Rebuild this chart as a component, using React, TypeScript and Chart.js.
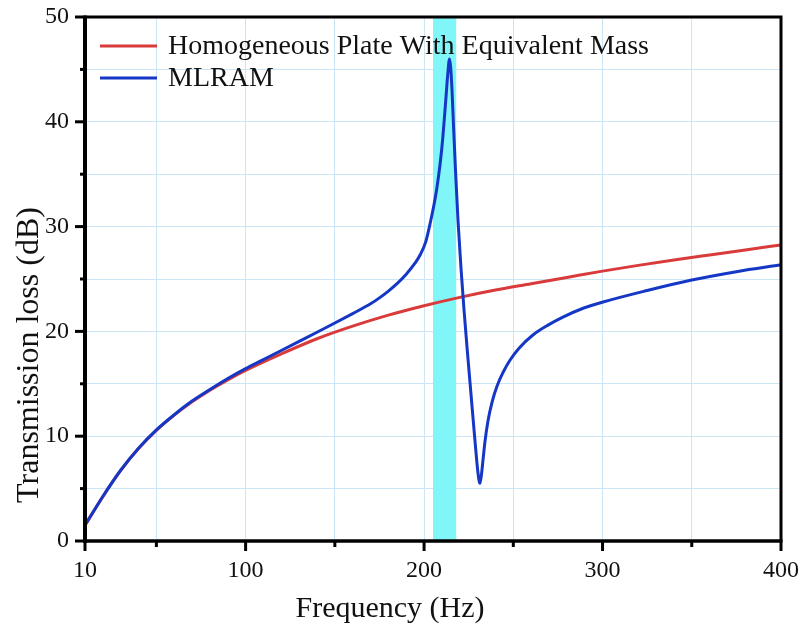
import React, { useEffect, useRef } from "react";
import { Chart, registerables } from "chart.js";

Chart.register(...registerables);

const FONT = "'Liberation Serif', 'Times New Roman', 'DejaVu Serif', serif";

// Axis ticks / grid
const xTickLabels = [10, 100, 200, 300, 400];
const xGridValues = [10, 50, 100, 150, 200, 250, 300, 350, 400];
const yTickLabels = [0, 10, 20, 30, 40, 50];
const yGridValues = [0, 5, 10, 15, 20, 25, 30, 35, 40, 45, 50];

const xTitle = "Frequency (Hz)";
const yTitle = "Transmission loss (dB)";

const seriesNames = ["Homogeneous Plate With Equivalent Mass", "MLRAM"];
const seriesColors = ["#d93b3b", "#1537c6"];

// Homogeneous plate (red)
const plateFreq = [10, 20, 30, 40, 50, 60, 70, 80, 90, 100, 120, 140, 160, 180, 200, 220, 240, 260, 280, 300, 320, 340, 360, 380, 400];
const plateTL = [1.5, 4.24, 6.74, 8.82, 10.55, 12.01, 13.28, 14.39, 15.38, 16.27, 17.85, 19.3, 20.5, 21.55, 22.45, 23.25, 23.95, 24.55, 25.15, 25.75, 26.3, 26.82, 27.3, 27.77, 28.25];

// MLRAM (blue)
const mlramFreq = [10, 20, 30, 40, 50, 60, 70, 80, 90, 100, 110, 120, 130, 140, 150, 160, 170, 175, 180, 185, 190, 195, 198, 201, 203, 205, 207, 209, 210.5, 212, 213.3, 214.25, 214.9, 215.6, 216.4, 217.6, 219.0, 220.7, 222.4, 224.3, 226.3, 228.5, 230.2, 231.3, 232.2, 233.0, 234.1, 235.8, 238.1, 240.9, 244.3, 248.2, 253.2, 261.0, 269.4, 277.8, 287.4, 300.3, 325, 350, 375, 400];
const mlramTL = [1.5, 4.25, 6.75, 8.85, 10.6, 12.05, 13.35, 14.45, 15.5, 16.45, 17.31, 18.18, 19.05, 19.92, 20.8, 21.7, 22.63, 23.2, 23.85, 24.58, 25.45, 26.53, 27.36, 28.59, 30.0, 31.6, 33.5, 36.0, 38.5, 41.7, 44.6, 46.0, 45.2, 43.2, 40.0, 35.4, 30.6, 26.0, 22.0, 18.0, 14.0, 9.6, 6.5, 5.5, 6.4, 7.7, 9.45, 11.45, 13.26, 14.8, 16.1, 17.27, 18.4, 19.66, 20.6, 21.37, 22.09, 22.8, 23.9, 24.9, 25.7, 26.35];

// Highlighted band
const bandRange = [205, 218];
const bandColor = "#80f6f8";
const gridColor = "#cbe5f4";

const decorPlugin = {
  id: "decor",
  beforeDatasetsDraw(chart: any) {
    const { ctx, chartArea: a, scales } = chart;
    const x0 = scales.x.getPixelForValue(bandRange[0]);
    const x1 = scales.x.getPixelForValue(bandRange[1]);
    ctx.save();
    ctx.fillStyle = bandColor;
    ctx.fillRect(x0, a.top, x1 - x0, a.bottom - a.top);
    ctx.restore();
  },
  afterDraw(chart: any) {
    const { ctx, chartArea: a, scales } = chart;
    const xs = scales.x;
    const ys = scales.y;
    ctx.save();
    ctx.strokeStyle = "#000";
    ctx.lineCap = "butt";
    // frame
    ctx.lineWidth = 3;
    ctx.beginPath();
    ctx.moveTo(a.left, a.top);
    ctx.lineTo(a.right, a.top);
    ctx.lineTo(a.right, a.bottom);
    ctx.stroke();
    ctx.lineWidth = 4;
    ctx.beginPath();
    ctx.moveTo(a.left, a.top - 1.5);
    ctx.lineTo(a.left, a.bottom + 2);
    ctx.stroke();
    ctx.lineWidth = 3.5;
    ctx.beginPath();
    ctx.moveTo(a.left - 2, a.bottom);
    ctx.lineTo(a.right + 1.5, a.bottom);
    ctx.stroke();
    // ticks
    ctx.lineWidth = 3;
    xGridValues.forEach((v) => {
      const px = xs.getPixelForValue(v);
      const major = xTickLabels.includes(v);
      ctx.beginPath();
      ctx.moveTo(px, a.bottom);
      ctx.lineTo(px, a.bottom + (major ? 10 : 6));
      ctx.stroke();
    });
    yGridValues.forEach((v) => {
      const py = ys.getPixelForValue(v);
      const major = yTickLabels.includes(v);
      ctx.beginPath();
      ctx.moveTo(a.left, py);
      ctx.lineTo(a.left - (major ? 10 : 5), py);
      ctx.stroke();
    });
    // legend
    const rows = [46, 78];
    chart.data.datasets.forEach((ds: any, i: number) => {
      const y = rows[i];
      ctx.strokeStyle = ds.borderColor;
      ctx.lineWidth = 3;
      ctx.beginPath();
      ctx.moveTo(100, y);
      ctx.lineTo(157, y);
      ctx.stroke();
      ctx.fillStyle = "#111";
      ctx.font = `28px ${FONT}`;
      ctx.textAlign = "left";
      ctx.textBaseline = "middle";
      ctx.fillText(ds.label, 168, y + 1);
    });
    // axis titles
    ctx.fillStyle = "#111";
    ctx.font = `30px ${FONT}`;
    ctx.textAlign = "center";
    ctx.textBaseline = "alphabetic";
    ctx.fillText(xTitle, 390, 617);
    ctx.translate(38, 355);
    ctx.rotate(-Math.PI / 2);
    ctx.font = `32px ${FONT}`;
    ctx.fillText(yTitle, 0, 0);
    ctx.restore();
  },
};

export default function App() {
  const ref = useRef<HTMLCanvasElement>(null);
  useEffect(() => {
    const canvas = ref.current!;
    const chart = new Chart(canvas, {
      type: "line",
      data: {
        datasets: [
          {
            label: seriesNames[0],
            data: plateFreq.map((f, i) => ({ x: f, y: plateTL[i] })),
            borderColor: seriesColors[0],
            backgroundColor: seriesColors[0],
            borderWidth: 3,
            pointRadius: 0,
            cubicInterpolationMode: "monotone",
            fill: false,
            order: 2,
          },
          {
            label: seriesNames[1],
            data: mlramFreq.map((f, i) => ({ x: f, y: mlramTL[i] })),
            borderColor: seriesColors[1],
            backgroundColor: seriesColors[1],
            borderWidth: 3,
            pointRadius: 0,
            cubicInterpolationMode: "monotone",
            fill: false,
            order: 1,
          },
        ],
      },
      options: {
        animation: false,
        responsive: false,
        devicePixelRatio: 1,
        layout: { padding: { top: 17, right: 29, left: 0, bottom: 0 } },
        plugins: { legend: { display: false }, tooltip: { enabled: false } },
        scales: {
          x: {
            type: "linear",
            min: 10,
            max: 400,
            afterBuildTicks: (s: any) => {
              s.ticks = xGridValues.map((v) => ({ value: v }));
            },
            afterFit: (s: any) => {
              s.height = 91;
              s.paddingLeft = 0;
              s.paddingRight = 0;
            },
            grid: { color: gridColor, lineWidth: 1, drawTicks: false },
            border: { display: false },
            ticks: {
              autoSkip: false,
              maxRotation: 0,
              callback: (v: any) => (xTickLabels.includes(Number(v)) ? String(v) : ""),
              font: { family: FONT, size: 24 },
              color: "#111",
              padding: 15,
            },
          },
          y: {
            type: "linear",
            min: 0,
            max: 50,
            afterBuildTicks: (s: any) => {
              s.ticks = yGridValues.map((v) => ({ value: v }));
            },
            afterFit: (s: any) => {
              s.width = 85;
              s.paddingTop = 0;
              s.paddingBottom = 0;
            },
            grid: { color: gridColor, lineWidth: 1, drawTicks: false },
            border: { display: false },
            ticks: {
              autoSkip: false,
              callback: (v: any) => (yTickLabels.includes(Number(v)) ? String(v) : ""),
              font: { family: FONT, size: 24 },
              color: "#111",
              padding: 16,
            },
          },
        },
      },
      plugins: [decorPlugin],
    } as any);
    return () => chart.destroy();
  }, []);
  return (
    <div style={{ position: "fixed", left: 0, top: 0, width: 810, height: 632, background: "#fff" }}>
      <canvas ref={ref} width={810} height={632} style={{ display: "block" }} />
    </div>
  );
}
